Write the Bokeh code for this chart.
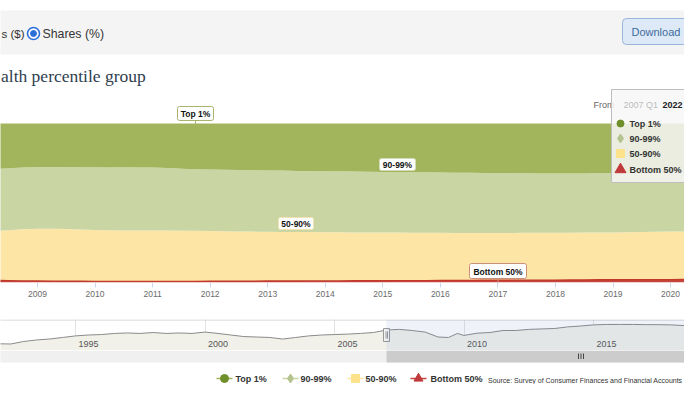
from bokeh.plotting import figure
from bokeh.models import Range1d, ColumnDataSource, FixedTicker, Grid, BoxAnnotation
from bokeh.layouts import column
from bokeh.embed import file_html
from bokeh.resources import INLINE
from bokeh.core.properties import value

# ---------------- data ----------------
series_names = ["Top 1%", "90-99%", "50-90%", "Bottom 50%"]
quarters = [f"{y}Q{q}" for y in range(2008, 2022) for q in range(1, 5)][:54]

top1 = [28.8, 28.6, 28.1, 27.6, 27.4, 27.3, 27.4, 27.5, 27.5, 27.6, 27.5, 27.7,
        27.6, 28.0, 28.4, 28.8, 29.0, 29.1, 29.2, 29.4, 29.5, 29.6, 29.8, 29.9,
        30.0, 30.1, 30.2, 30.3, 30.5, 30.6, 30.6, 30.7, 30.8, 30.9, 31.0, 31.1,
        31.2, 31.3, 31.3, 31.4, 31.4, 31.5, 31.5, 31.2, 31.3, 31.3, 31.2, 31.3,
        31.0, 31.1, 31.2, 31.4, 31.6, 31.8]
p90_99 = [39.0, 39.0, 39.1, 38.9, 38.8, 38.9, 38.9, 39.1, 39.5, 39.6, 39.8, 39.6,
          39.7, 39.3, 39.0, 38.7, 38.6, 38.7, 38.7, 38.6, 38.6, 38.6, 38.5, 38.4,
          38.4, 38.3, 38.3, 38.2, 38.1, 38.0, 38.1, 38.0, 37.9, 37.9, 37.8, 37.7,
          37.6, 37.5, 37.4, 37.3, 37.3, 37.2, 37.1, 37.3, 37.2, 37.1, 37.1, 36.8,
          36.9, 36.8, 36.7, 36.6, 36.4, 36.3]
p50_90 = [30.8, 31.1, 31.6, 32.5, 32.9, 33.0, 32.9, 32.6, 32.3, 32.1, 32.0, 32.0,
          32.0, 32.0, 31.9, 31.8, 31.6, 31.4, 31.3, 31.2, 31.0, 30.9, 30.8, 30.7,
          30.6, 30.6, 30.4, 30.4, 30.3, 30.2, 30.1, 30.1, 30.0, 29.9, 29.9, 29.8,
          29.8, 29.8, 29.8, 29.8, 29.8, 29.7, 29.8, 29.8, 29.8, 29.9, 29.9, 30.1,
          30.3, 30.2, 30.2, 30.0, 30.0, 29.8]
bottom50 = [1.4, 1.3, 1.2, 1.0, 0.9, 0.8, 0.8, 0.8, 0.7, 0.7, 0.7, 0.7,
            0.7, 0.7, 0.7, 0.7, 0.8, 0.8, 0.8, 0.8, 0.9, 0.9, 0.9, 1.0,
            1.0, 1.0, 1.1, 1.1, 1.1, 1.2, 1.2, 1.2, 1.3, 1.3, 1.3, 1.4,
            1.4, 1.4, 1.5, 1.5, 1.5, 1.6, 1.6, 1.7, 1.7, 1.7, 1.8, 1.8,
            1.8, 1.9, 1.9, 2.0, 2.0, 2.1]
year_ticks = list(range(2009, 2021))

# navigator (full history of the Top 1% share)
nav_dates = [1989.5, 1990.5, 1991.5, 1992.0, 1992.5, 1993.0, 1993.5, 1994.0, 1994.5,
             1995.0, 1995.5, 1996.0, 1996.5, 1997.0, 1997.5, 1998.0, 1998.5, 1999.0,
             1999.5, 2000.0, 2000.5, 2001.0, 2001.5, 2002.0, 2002.5, 2003.0, 2003.5,
             2004.0, 2004.5, 2005.0, 2005.5, 2006.0, 2006.5, 2007.0, 2007.5, 2008.0,
             2008.5, 2009.0, 2009.4, 2009.75, 2010.0, 2010.5, 2011.0, 2011.5, 2012.0,
             2012.5, 2013.0, 2013.5, 2014.0, 2014.5, 2015.0, 2015.5, 2016.0, 2016.5,
             2017.0, 2017.5, 2018.0, 2018.5, 2018.75, 2019.0, 2019.5, 2020.0, 2020.5,
             2021.0, 2021.5, 2022.0]
nav_top1 = [23.6, 23.4, 23.5, 23.4, 23.3, 24.4, 25.1, 25.5, 26.2,
            26.9, 27.3, 27.5, 28.0, 28.2, 28.0, 28.4, 28.0, 28.2,
            28.0, 28.6, 28.0, 27.3, 26.6, 26.4, 26.2, 25.5, 26.2,
            26.9, 27.3, 27.5, 27.7, 28.0, 28.4, 29.5, 29.8, 29.3,
            28.6, 26.4, 26.2, 28.0, 27.1, 28.1, 28.4, 29.3, 29.3,
            29.8, 30.0, 30.2, 30.9, 31.3, 31.8, 32.0, 32.0, 32.0,
            31.9, 31.9, 31.8, 31.5, 30.8, 31.9, 32.0, 31.5, 32.0,
            32.3, 32.5, 32.2]
nav_ticks = [1995, 2000, 2005, 2010, 2015]
range_from = "2007 Q1"
range_from_value = 2007.0
range_to = "2022"

# ---------------- styles ----------------
area_colors = ["#a2b55c", "#c9d6a3", "#fde5a6", "#c7463c"]
marker_colors = ["#6f8f2b", "#b5c38f", "#fde28c", "#c0393b"]
markers = ["circle", "diamond", "square", "triangle"]
FONT = "Liberation Sans"
W = 684


def make_px(p, top, bottom):
    p.extra_x_ranges = {"px": Range1d(0, W)}
    p.extra_y_ranges = {"px": Range1d(bottom, top)}


def base_fig(height, **kw):
    p = figure(width=W, height=height, toolbar_location=None, output_backend="svg",
               min_border=0, outline_line_color=None, background_fill_color="white",
               border_fill_color="white", **kw)
    p.xgrid.visible = False
    p.ygrid.visible = False
    return p


def t(p, x, y, s, size=9, color="#333333", bold=False, align="left", font=FONT):
    p.text(x=[x], y=[y], text=[s], x_range_name="px", y_range_name="px",
           text_font=value(font), text_font_size=f"{size}px", text_color=color,
           text_font_style="bold" if bold else "normal", text_align=align,
           text_baseline="middle")


def box(p, l, r, top, bot, fill, line, alpha=1.0, radius=0, lw=1):
    p.quad(left=[l], right=[r], top=[top], bottom=[bot], x_range_name="px",
           y_range_name="px", fill_color=fill, fill_alpha=alpha, line_color=line,
           line_width=lw, border_radius=radius)


def seg(p, x0, y0, x1, y1, color, w=1):
    p.segment(x0=[x0], y0=[y0], x1=[x1], y1=[y1], x_range_name="px",
              y_range_name="px", line_color=color, line_width=w)


def flag(p, l, r, top, bot, label, line, stem_x=None, stem_to=None):
    if stem_x is not None:
        seg(p, stem_x, bot, stem_x, stem_to, line)
    box(p, l, r, top, bot, "white", line, radius=2)
    t(p, (l + r) / 2, (top + bot) / 2 + 0.5, label, 8.5, "#111111", bold=True, align="center")


# ---------------- header ----------------
H = base_fig(86, x_range=Range1d(0, W), y_range=Range1d(86, 0),
             x_axis_location=None, y_axis_location=None)
make_px(H, 0, 86)
box(H, -5, 700, 10, 54, "#f4f4f4", None)
t(H, 1, 33, "s ($)", 11.5, "#333333")
H.scatter(x=[33], y=[33], size=12, fill_color="white", line_color="#2d6fd8",
          line_width=1.6, x_range_name="px", y_range_name="px")
H.scatter(x=[33], y=[33], size=6, fill_color="#2d6fd8", line_color="#2d6fd8",
          x_range_name="px", y_range_name="px")
t(H, 42, 33, "Shares (%)", 12.3, "#333333")
box(H, 622, 720, 18, 44, "#dde9f7", "#98b5db", radius=4)
t(H, 631, 31.5, "Download", 11, "#3f6b9b")
t(H, 0.5, 75, "alth percentile group", 17.5, "#2f4050", font="Liberation Serif")

# ---------------- main chart (frame starts above the 100% line) ----------------
PXY = 57.55
TOP, PLOT_TOP, PLOT_BOT = 86, 123, 282
M = base_fig(312 - TOP, x_range=Range1d(2009 - 37 / PXY, 2009 + (W - 37) / PXY),
             y_range=Range1d(0, 100 * (PLOT_BOT - TOP) / (PLOT_BOT - PLOT_TOP)),
             y_axis_location=None, min_border_bottom=30)
make_px(M, TOP, PLOT_BOT)
xq = [int(q[:4]) + (int(q[5]) - 1) / 4 for q in quarters]
src = ColumnDataSource(dict(x=xq, b50=bottom50, p5090=p50_90, p9099=p90_99, top1=top1))
M.varea_stack(stackers=["b50", "p5090", "p9099", "top1"], x="x",
              color=area_colors[::-1], source=src)
M.line(x="x", y="b50", source=src, line_color="#c0392b", line_width=1.4)
M.xaxis.ticker = FixedTicker(ticks=year_ticks)
M.xaxis.axis_line_color = None
M.xaxis.major_tick_line_color = "#ccd6eb"
M.xaxis.major_tick_out = 5
M.xaxis.major_tick_in = 0
M.xaxis.minor_tick_line_color = None
M.xaxis.major_label_standoff = 3
M.xaxis.major_label_text_font = FONT
M.xaxis.major_label_text_font_size = "8.5px"
M.xaxis.major_label_text_color = "#6b6b6b"
flag(M, 379, 415, 158, 170, series_names[1], "#d3dcb8")
flag(M, 278, 313, 217, 229, series_names[2], "#f3e2b0")
flag(M, 469, 526, 263, 278, series_names[3], "#c98f7a", 497.5, 283)
flag(M, 177, 213, 106, 120, series_names[0], "#a9b46a", 195, 126)

# range selector / legend box
t(M, 593, 104, "From", 9, "#666666")
box(M, 611, 740, 89, 182, "#f7f7f7", "#bdbdbd", alpha=0.85)
t(M, 623, 104, range_from, 9, "#bdbdbd")
t(M, 662, 104, range_to, 9, "#222222", bold=True)
rows = [123, 138, 153, 169]
row_sizes = [7, 9, 8, 11]
for name, mk, c, yy, s in zip(series_names, markers, marker_colors, rows, row_sizes):
    M.scatter(x=[620], y=[yy], marker=mk, size=s, fill_color=c, line_color=c,
              x_range_name="px", y_range_name="px")
    t(M, 629, yy, name, 9, "#333333", bold=True)

# ---------------- navigator ----------------
PXN = 25.9
N = base_fig(38, x_range=Range1d(1995 - 75 / PXN, 1995 + (W - 75) / PXN),
             y_range=Range1d(20.4, 34.2), x_axis_location=None, y_axis_location=None,
             min_border_top=7)
make_px(N, 319, 350)
N.add_layout(Grid(dimension=0, ticker=FixedTicker(ticks=nav_ticks),
                  grid_line_color="#e3e3e3"))
N.varea(x=nav_dates, y1=N.y_range.start, y2=nav_top1, fill_color="#f1f1ea")
N.line(x=nav_dates, y=nav_top1, line_color="#8a8a8a", line_width=1)
N.add_layout(BoxAnnotation(left=range_from_value, fill_color="#6685c2", fill_alpha=0.1,
                           line_color=None))
N.text(x=nav_ticks, y=343, text=[str(v) for v in nav_ticks], y_range_name="px",
       x_offset=3, text_font=value(FONT), text_font_size="9px", text_color="#555555",
       text_align="left", text_baseline="middle")
seg(N, -5, 319.5, 700, 319.5, "#cfcfcf")
box(N, 383, 389, 328, 341, "#f2f2f2", "#999999")
seg(N, 385.5, 331, 385.5, 338, "#999999")
seg(N, 387, 331, 387, 338, "#999999")

# ---------------- scrollbar, legend, source ----------------
L = base_fig(34, x_range=Range1d(0, W), y_range=Range1d(384, 350),
             x_axis_location=None, y_axis_location=None)
make_px(L, 350, 384)
box(L, -5, 700, 350, 362, "#f0f0f0", None)
box(L, 386, 720, 350, 362, "#cccccc", None)
for gx in (578, 580.5, 583):
    seg(L, gx, 353, gx, 358.5, "#444444")
leg_mx = [224, 290, 355, 418]
leg_tx = [235, 300, 365, 430]
leg_sizes = [8, 9, 8, 9]
for name, mk, c, ac, mx, tx, s in zip(series_names, markers, marker_colors,
                                      area_colors, leg_mx, leg_tx, leg_sizes):
    seg(L, mx - 8, 378, mx + 8, 378, ac, 1.5)
    L.scatter(x=[mx], y=[378], marker=mk, size=s, fill_color=c, line_color=c,
              x_range_name="px", y_range_name="px")
    t(L, tx, 378, name, 9, "#333333", bold=True)
t(L, 682, 379.5, "Source: Survey of Consumer Finances and Financial Accounts",
  7, "#333333", align="right")

layout = column(H, M, N, L, spacing=0)
open("out.html", "w").write(file_html(layout, INLINE, title="Wealth shares"))
